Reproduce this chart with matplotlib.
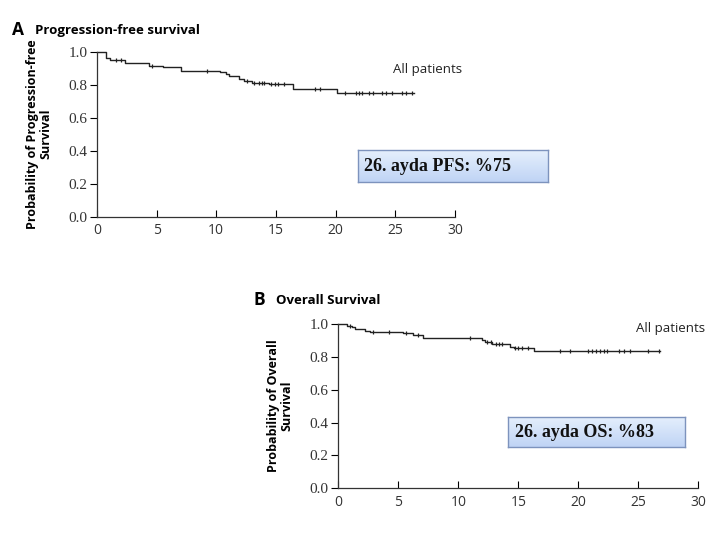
import numpy as np
import matplotlib.pyplot as plt

# progression-free survival (months, probability after each drop)
pfs_t = [0, 0.77, 1.1, 2.36, 4.4, 5.55, 7.06, 10.3, 10.8, 11.1, 11.9, 12.3, 13.0, 14.4, 16.4, 20.1, 26.6]
pfs_s = [1.0, 0.964, 0.953, 0.933, 0.919, 0.909, 0.889, 0.878, 0.867, 0.856, 0.836, 0.826, 0.816, 0.806, 0.776, 0.755, 0.755]
pfs_cens = [1.6, 2.0, 4.6, 9.2, 12.6, 13.2, 13.6, 13.8, 14.0, 14.6, 14.9, 15.2, 15.7, 18.3, 18.7,
            20.8, 21.7, 22.0, 22.2, 22.8, 23.1, 23.9, 24.2, 24.7, 25.6, 25.9, 26.4]

# overall survival
os_t = [0, 0.7, 1.1, 1.4, 2.2, 2.6, 5.4, 6.25, 7.08, 11.95, 12.2, 12.8, 14.3, 14.6, 16.3, 26.8]
os_s = [1.0, 0.99, 0.98, 0.97, 0.96, 0.954, 0.944, 0.934, 0.918, 0.903, 0.893, 0.879, 0.862, 0.856, 0.834, 0.834]
os_cens = [1.0, 2.9, 4.2, 5.6, 6.6, 11.0, 12.4, 12.7, 13.1, 13.4, 13.6, 14.7, 15.0, 15.3, 15.8,
           18.5, 19.3, 20.8, 21.1, 21.5, 21.8, 22.1, 22.4, 23.4, 23.8, 24.3, 25.8, 26.7]

xticks = [0, 5, 10, 15, 20, 25, 30]
yticks = [0.0, 0.2, 0.4, 0.6, 0.8, 1.0]

sans = 'Open Sans'
serif = 'Liberation Serif'

fig = plt.figure(figsize=(7.2, 5.4), dpi=100)


def km_panel(rect, t, s, cens):
    ax = fig.add_axes(rect)
    ax.step(t, s, where='post', color='#222222', lw=1.0, clip_on=False)
    idx = np.searchsorted(t, cens, side='right') - 1
    ax.plot(cens, np.array(s)[idx], ls='none', marker='|', ms=3.2, mew=0.9,
            color='#222222', clip_on=False)
    ax.set_xlim(0, 30)
    ax.set_ylim(0, 1.0)
    ax.set_xticks(xticks)
    ax.set_yticks(yticks)
    ax.set_yticklabels([f'{v:.1f}' for v in yticks], family=serif, fontsize=11, color='#333333')
    ax.set_xticklabels([str(v) for v in xticks], family=sans, fontsize=10, color='#333333')
    ax.tick_params(axis='x', direction='in', length=5, width=0.8, pad=5)
    ax.tick_params(axis='y', direction='out', length=5, width=0.8, pad=2)
    for sp in ['top', 'right']:
        ax.spines[sp].set_visible(False)
    for sp in ['left', 'bottom']:
        ax.spines[sp].set_linewidth(0.9)
        ax.spines[sp].set_color('#333333')
    ax.text(24.8, s[-1] + 0.1, 'All patients', family=sans, fontsize=9.5, color='#222222',
            va='bottom', ha='left')
    return ax


axA = km_panel([0.1347, 0.599, 0.497, 0.304], pfs_t, pfs_s, pfs_cens)
axB = km_panel([0.470, 0.0957, 0.500, 0.304], os_t, os_s, os_cens)

# panel titles
fig.text(0.016, 0.944, 'A', family=sans, weight='bold', fontsize=12.5, va='center')
fig.text(0.049, 0.944, 'Progression-free survival', family=sans, weight='bold', fontsize=9.5, va='center')
fig.text(0.352, 0.444, 'B', family=sans, weight='bold', fontsize=12.5, va='center')
fig.text(0.383, 0.444, 'Overall Survival', family=sans, weight='bold', fontsize=9.5, va='center')

# y labels
fig.text(0.054, 0.752, 'Probability of Progression-free\nSurvival', family=sans, weight='bold',
         fontsize=9, rotation=90, ha='center', va='center', linespacing=1.05)
fig.text(0.389, 0.248, 'Probability of Overall\nSurvival', family=sans, weight='bold',
         fontsize=9, rotation=90, ha='center', va='center', linespacing=1.05)

# annotation boxes with a light blue vertical gradient
grad = np.linspace(0, 1, 64).reshape(-1, 1)
for rect, label in [([0.497, 0.663, 0.264, 0.059], '26. ayda PFS: %75'),
                    ([0.706, 0.172, 0.246, 0.0556], '26. ayda OS: %83')]:
    bx = fig.add_axes(rect)
    top = np.array([0.90, 0.94, 0.99])
    bot = np.array([0.75, 0.83, 0.96])
    img = top[None, None, :] * (1 - grad[:, :, None]) + bot[None, None, :] * grad[:, :, None]
    bx.imshow(img, aspect='auto', extent=[0, 1, 0, 1])
    bx.set_xticks([])
    bx.set_yticks([])
    for sp in bx.spines.values():
        sp.set_color('#7d93bd')
        sp.set_linewidth(1.0)
    bx.text(0.035, 0.5, label, family=serif, weight='bold', fontsize=13,
            color='#111111', va='center', ha='left', transform=bx.transAxes)

fig.savefig('out.png', dpi=100)
